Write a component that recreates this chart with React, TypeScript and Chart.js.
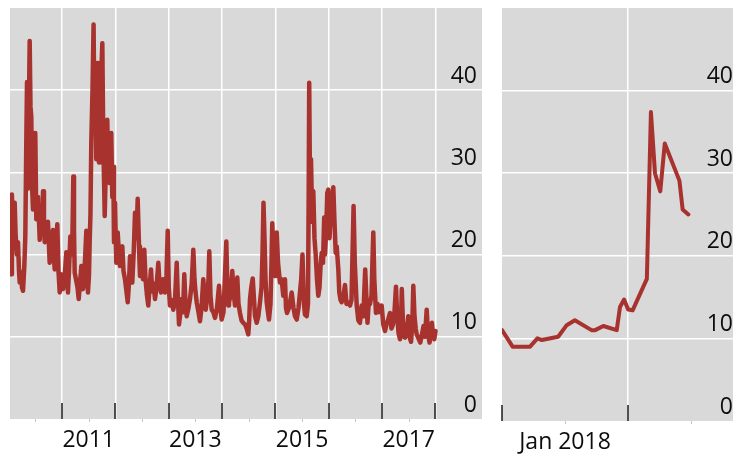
import React, { useEffect, useRef } from "react";
import { Chart, registerables } from "chart.js";

Chart.register(...registerables);

// ---- Data: VIX daily closes (decimal-year dates), 2010-2017 ----
const histDates = [
  2010.034, 2010.044, 2010.061, 2010.077, 2010.096, 2010.113, 2010.13, 2010.152, 2010.175, 2010.194,
  2010.207, 2010.231, 2010.25, 2010.269, 2010.293, 2010.312, 2010.329, 2010.344, 2010.359, 2010.374,
  2010.394, 2010.409, 2010.424, 2010.441, 2010.456, 2010.479, 2010.499, 2010.518, 2010.535, 2010.55,
  2010.569, 2010.582, 2010.606, 2010.625, 2010.644, 2010.662, 2010.676, 2010.706, 2010.737, 2010.756,
  2010.769, 2010.799, 2010.831, 2010.85, 2010.863, 2010.887, 2010.912, 2010.934, 2010.957, 2010.981,
  2011.0, 2011.019, 2011.047, 2011.081, 2011.094, 2011.112, 2011.131, 2011.156, 2011.178, 2011.193,
  2011.212, 2011.225, 2011.238, 2011.262, 2011.291, 2011.313, 2011.337, 2011.362, 2011.375, 2011.394,
  2011.422, 2011.456, 2011.469, 2011.487, 2011.506, 2011.519, 2011.534, 2011.549, 2011.572, 2011.592,
  2011.609, 2011.624, 2011.643, 2011.662, 2011.675, 2011.694, 2011.712, 2011.731, 2011.756, 2011.774,
  2011.801, 2011.816, 2011.829, 2011.849, 2011.868, 2011.894, 2011.909, 2011.924, 2011.943, 2011.962,
  2011.975, 2011.994, 2012.018, 2012.044, 2012.069, 2012.087, 2012.11, 2012.131, 2012.153, 2012.181,
  2012.209, 2012.232, 2012.256, 2012.275, 2012.297, 2012.318, 2012.346, 2012.369, 2012.397, 2012.419,
  2012.444, 2012.462, 2012.491, 2012.519, 2012.543, 2012.566, 2012.594, 2012.618, 2012.641, 2012.669,
  2012.693, 2012.716, 2012.744, 2012.772, 2012.806, 2012.828, 2012.856, 2012.894, 2012.931, 2012.959,
  2012.982, 2013.002, 2013.025, 2013.053, 2013.087, 2013.119, 2013.151, 2013.171, 2013.194, 2013.222,
  2013.244, 2013.269, 2013.293, 2013.316, 2013.338, 2013.372, 2013.4, 2013.432, 2013.462, 2013.484,
  2013.503, 2013.526, 2013.559, 2013.587, 2013.616, 2013.649, 2013.672, 2013.694, 2013.728, 2013.747,
  2013.762, 2013.784, 2013.807, 2013.837, 2013.869, 2013.906, 2013.944, 2013.968, 2013.994, 2014.028,
  2014.056, 2014.081, 2014.097, 2014.118, 2014.131, 2014.159, 2014.193, 2014.216, 2014.244, 2014.266,
  2014.287, 2014.309, 2014.337, 2014.366, 2014.399, 2014.431, 2014.463, 2014.493, 2014.51, 2014.525,
  2014.549, 2014.576, 2014.596, 2014.619, 2014.651, 2014.681, 2014.712, 2014.741, 2014.759, 2014.778,
  2014.797, 2014.816, 2014.838, 2014.862, 2014.881, 2014.909, 2014.928, 2014.943, 2014.966, 2014.994,
  2015.009, 2015.026, 2015.05, 2015.087, 2015.119, 2015.149, 2015.181, 2015.2, 2015.219, 2015.256,
  2015.307, 2015.341, 2015.369, 2015.401, 2015.434, 2015.462, 2015.485, 2015.509, 2015.537, 2015.556,
  2015.588, 2015.612, 2015.626, 2015.635, 2015.65, 2015.669, 2015.691, 2015.712, 2015.734, 2015.757,
  2015.781, 2015.806, 2015.828, 2015.847, 2015.869, 2015.894, 2015.916, 2015.931, 2015.954, 2015.974,
  2015.993, 2016.016, 2016.034, 2016.057, 2016.087, 2016.109, 2016.132, 2016.151, 2016.181, 2016.199,
  2016.222, 2016.244, 2016.278, 2016.306, 2016.334, 2016.368, 2016.4, 2016.428, 2016.447, 2016.467,
  2016.49, 2016.526, 2016.556, 2016.587, 2016.619, 2016.644, 2016.662, 2016.685, 2016.709, 2016.728,
  2016.747, 2016.775, 2016.803, 2016.822, 2016.837, 2016.856, 2016.887, 2016.916, 2016.944, 2016.994,
  2017.024, 2017.056, 2017.084, 2017.112, 2017.15, 2017.178, 2017.206, 2017.234, 2017.262, 2017.281,
  2017.309, 2017.337, 2017.356, 2017.371, 2017.394, 2017.412, 2017.431, 2017.459, 2017.493, 2017.516,
  2017.544, 2017.568, 2017.587, 2017.609, 2017.632, 2017.651, 2017.684, 2017.718, 2017.741, 2017.778,
  2017.806, 2017.838, 2017.862, 2017.891, 2017.909, 2017.937, 2017.956, 2017.979, 2018.003,
];

const histValues = [
  20.0, 17.6, 27.3, 22.0, 24.5, 26.3, 22.5, 20.0, 21.5, 18.0,
  16.6, 17.8, 16.0, 15.6, 18.5, 22.2, 32.8, 41.0, 28.0, 35.0,
  46.0, 38.0, 36.8, 28.0, 25.5, 31.0, 34.8, 24.3, 27.0, 26.3,
  24.0, 21.8, 25.0, 24.0, 27.7, 23.5, 21.5, 22.5, 24.0, 21.0,
  19.0, 20.5, 23.0, 19.5, 18.2, 20.0, 23.7, 18.0, 15.4, 17.6,
  17.5, 15.8, 17.0, 20.3, 17.5, 15.4, 18.0, 22.2, 20.0, 21.0,
  29.5, 23.0, 17.8, 17.0, 16.0, 14.6, 16.5, 18.6, 16.5, 15.8,
  18.0, 22.9, 18.0, 15.4, 17.5, 21.5, 25.0, 33.6, 40.0, 48.0,
  36.0, 42.0, 31.6, 43.3, 35.0, 31.2, 37.0, 41.0, 45.7, 34.0,
  24.7, 29.0, 33.0, 36.4, 30.0, 28.7, 31.0, 34.8, 27.0, 30.7,
  21.5, 26.3, 19.0, 22.7, 20.0, 18.6, 20.5, 21.0, 18.0, 17.0,
  15.5, 14.2, 16.5, 19.8, 17.0, 16.6, 20.5, 25.1, 22.0, 26.8,
  21.0, 17.4, 18.5, 17.0, 20.6, 17.0, 15.0, 13.8, 16.0, 18.2,
  15.5, 16.5, 14.6, 16.0, 19.0, 16.5, 15.4, 17.0, 15.4, 17.5,
  22.9, 16.0, 13.8, 14.5, 13.3, 14.5, 19.0, 15.0, 11.5, 13.0,
  14.6, 13.0, 17.6, 14.0, 12.5, 13.5, 14.6, 16.5, 20.6, 17.0,
  15.5, 14.2, 13.0, 11.9, 13.5, 17.0, 15.0, 13.3, 15.0, 17.0,
  20.4, 15.0, 13.3, 13.0, 12.3, 13.5, 16.2, 13.5, 12.1, 13.0,
  17.5, 21.6, 17.0, 13.8, 14.2, 15.0, 18.0, 15.5, 13.8, 15.0,
  17.2, 14.0, 12.9, 12.0, 11.7, 11.5, 11.0, 10.3, 12.0, 14.6,
  16.0, 17.1, 15.0, 12.5, 11.7, 12.5, 14.2, 16.0, 20.0, 26.3,
  22.0, 17.0, 14.2, 13.0, 12.1, 14.0, 19.0, 23.8, 19.5, 17.4,
  19.5, 22.7, 19.0, 16.6, 17.0, 15.0, 17.0, 13.5, 12.9, 13.5,
  15.4, 13.5, 12.5, 12.1, 13.5, 15.4, 17.0, 20.0, 14.0, 12.7,
  12.5, 14.0, 28.0, 40.9, 28.0, 31.6, 24.0, 27.7, 22.0, 20.0,
  17.0, 15.0, 16.0, 18.5, 20.2, 19.0, 24.5, 20.0, 23.0, 27.5,
  27.9, 22.0, 24.5, 26.0, 28.2, 24.0, 20.2, 21.0, 18.2, 15.4,
  14.5, 14.2, 15.0, 16.3, 14.0, 14.2, 13.8, 14.5, 20.0, 25.9,
  19.0, 13.8, 12.0, 11.7, 13.8, 12.5, 14.5, 18.2, 14.5, 11.7,
  13.8, 14.0, 15.0, 19.5, 22.7, 17.0, 12.9, 14.0, 13.0, 13.8,
  11.5, 10.7, 11.5, 12.0, 12.9, 11.0, 11.5, 13.0, 16.1, 13.0,
  10.5, 9.7, 11.5, 15.8, 11.5, 10.0, 9.9, 10.5, 12.5, 10.0,
  9.4, 11.5, 16.2, 12.5, 11.0, 10.3, 9.8, 9.3, 10.0, 11.3,
  10.0, 13.3, 10.5, 9.3, 10.0, 11.7, 10.0, 9.7, 10.7,
];

// ---- Data: early 2018 (days since 1 Jan 2018) ----
const recentDays = [0, 2.6, 6.9, 8.7, 9.8, 13.8, 15.9, 17.9, 22.0, 22.9, 24.9, 28.2, 29.0, 30.0, 31.0, 32.1, 35.6, 36.6, 37.6, 38.9, 40.0, 43.6, 44.4, 45.8];
const recentValues = [11.0, 9.0, 9.0, 10.0, 9.8, 10.2, 11.6, 12.2, 11.0, 11.0, 11.5, 11.0, 13.8, 14.7, 13.5, 13.4, 17.2, 37.4, 30.0, 27.8, 33.6, 29.1, 25.6, 25.0];

// ---- Axes ----
const yGridValues = [0, 10, 20, 30, 40, 50];
const yTickLabels = ["0", "10", "20", "30", "40", ""];
const histYearTicks = [2011, 2012, 2013, 2014, 2015, 2016, 2017, 2018];
const histYearLabels = ["2011", "", "2013", "", "2015", "", "2017", ""];
const histMinorTicks = [2010.5, 2011.5, 2012.5, 2013.5, 2014.5, 2015.5, 2016.5, 2017.5];
const recentMonthTicks = [0, 31];
const recentMonthLabels = ["Jan 2018", ""];
const recentMinorTicks = [15.5, 46.5];

const LINE = "#a8322e";
const PANEL_BG = "#d9d9d9";
const FONT = "'Open Sans', 'Noto Sans', sans-serif";

const panelPlugin = {
  id: "panel",
  beforeDraw(chart: any) {
    const { ctx, chartArea: a } = chart;
    ctx.save();
    ctx.fillStyle = PANEL_BG;
    ctx.fillRect(a.left, a.top, a.right - a.left, a.bottom - a.top);
    ctx.restore();
  },
  afterDraw(chart: any, _args: any, opts: any) {
    const { ctx, chartArea: a, scales } = chart;
    const x = scales.x;
    ctx.save();
    ctx.strokeStyle = "#1a1a1a";
    ctx.lineWidth = 1.5;
    for (const v of opts.majorTicks || []) {
      const px = Math.round(x.getPixelForValue(v));
      ctx.beginPath();
      ctx.moveTo(px, a.bottom);
      ctx.lineTo(px, a.bottom - 16);
      ctx.stroke();
    }
    ctx.strokeStyle = "#c4c4c4";
    ctx.lineWidth = 1;
    for (const v of opts.minorTicks || []) {
      const px = Math.round(x.getPixelForValue(v)) + 0.5;
      ctx.beginPath();
      ctx.moveTo(px, a.bottom);
      ctx.lineTo(px, a.bottom + 3);
      ctx.stroke();
    }
    ctx.restore();
  },
};

type PanelProps = {
  left: number;
  width: number;
  height: number;
  xs: number[];
  ys: number[];
  xMin: number;
  xMax: number;
  majorTicks: number[];
  majorLabels: string[];
  minorTicks: number[];
  labelOffsetX: number;
  padding: { left: number; right: number; top: number; bottom: number };
  xAxisHeight: number;
  lineWidth: number;
  edgeTickHidden?: number;
};

function zeroPadding(ax: any) {
  ax.paddingLeft = 0;
  ax.paddingRight = 0;
  ax.paddingTop = 0;
  ax.paddingBottom = 0;
}

function Panel(p: PanelProps) {
  const ref = useRef<HTMLCanvasElement>(null);
  useEffect(() => {
    if (!ref.current) return;
    const data = p.xs.map((x, i) => ({ x, y: p.ys[i] }));
    const chart = new Chart(ref.current, {
      type: "line",
      data: {
        datasets: [
          {
            data,
            borderColor: LINE,
            borderWidth: p.lineWidth,
            pointRadius: 0,
            tension: 0,
            borderJoinStyle: "round",
            borderCapStyle: "round",
            fill: false,
          } as any,
        ],
      },
      options: {
        animation: false,
        responsive: false,
        devicePixelRatio: 1,
        layout: { padding: p.padding },
        plugins: {
          legend: { display: false },
          tooltip: { enabled: false },
          panel: { majorTicks: p.majorTicks, minorTicks: p.minorTicks },
        } as any,
        scales: {
          x: {
            type: "linear",
            min: p.xMin,
            max: p.xMax,
            afterBuildTicks: (ax: any) => {
              ax.ticks = p.majorTicks.map((v) => ({ value: v }));
            },
            afterFit: (ax: any) => {
              ax.height = p.xAxisHeight;
              zeroPadding(ax);
            },
            grid: {
              drawTicks: false,
              lineWidth: 1.5,
              color: (c: any) =>
                c.tick && c.tick.value === p.edgeTickHidden ? "rgba(0,0,0,0)" : "#ffffff",
            },
            border: { display: false },
            ticks: {
              autoSkip: false,
              maxRotation: 0,
              minRotation: 0,
              labelOffset: p.labelOffsetX,
              padding: 8,
              color: "#0d0d0d",
              font: { family: FONT, size: 23 },
              callback: (_v: any, i: number) => p.majorLabels[i],
            },
          },
          y: {
            type: "linear",
            position: "right",
            min: 0,
            max: 50,
            afterBuildTicks: (ax: any) => {
              ax.ticks = yGridValues.map((v) => ({ value: v }));
            },
            afterFit: (ax: any) => {
              ax.width = 0;
              zeroPadding(ax);
            },
            grid: {
              drawTicks: false,
              lineWidth: 1.5,
              color: (c: any) =>
                c.tick && c.tick.value > 0 && c.tick.value < 50 ? "#ffffff" : "rgba(0,0,0,0)",
            },
            border: { display: false },
            ticks: {
              mirror: true,
              padding: -5,
              labelOffset: -14,
              color: "#0d0d0d",
              font: { family: FONT, size: 23 },
              callback: (_v: any, i: number) => yTickLabels[i],
            },
          },
        },
      } as any,
      plugins: [panelPlugin],
    });
    return () => chart.destroy();
  }, []);
  return (
    <canvas
      ref={ref}
      width={p.width}
      height={p.height}
      style={{ position: "absolute", left: p.left, top: 0, width: p.width, height: p.height }}
    />
  );
}

export default function App() {
  return (
    <div
      style={{
        position: "fixed",
        left: 0,
        top: 0,
        width: 733,
        height: 459,
        overflow: "hidden",
        background: "#ffffff",
      }}
    >
      <Panel
        left={0}
        width={490}
        height={459}
        xs={histDates}
        ys={histValues}
        xMin={2010.025}
        xMax={2018.875}
        majorTicks={histYearTicks}
        majorLabels={histYearLabels}
        minorTicks={histMinorTicks}
        labelOffsetX={26.7}
        padding={{ left: 10, right: 8, top: 8, bottom: 0 }}
        xAxisHeight={40}
        lineWidth={4.5}
      />
      <Panel
        left={490}
        width={250}
        height={459}
        xs={recentDays}
        ys={recentValues}
        xMin={0}
        xMax={58}
        majorTicks={recentMonthTicks}
        majorLabels={recentMonthLabels}
        minorTicks={recentMinorTicks}
        labelOffsetX={63}
        padding={{ left: 12, right: 2, top: 8, bottom: 0 }}
        xAxisHeight={38}
        lineWidth={4}
        edgeTickHidden={0}
      />
    </div>
  );
}
